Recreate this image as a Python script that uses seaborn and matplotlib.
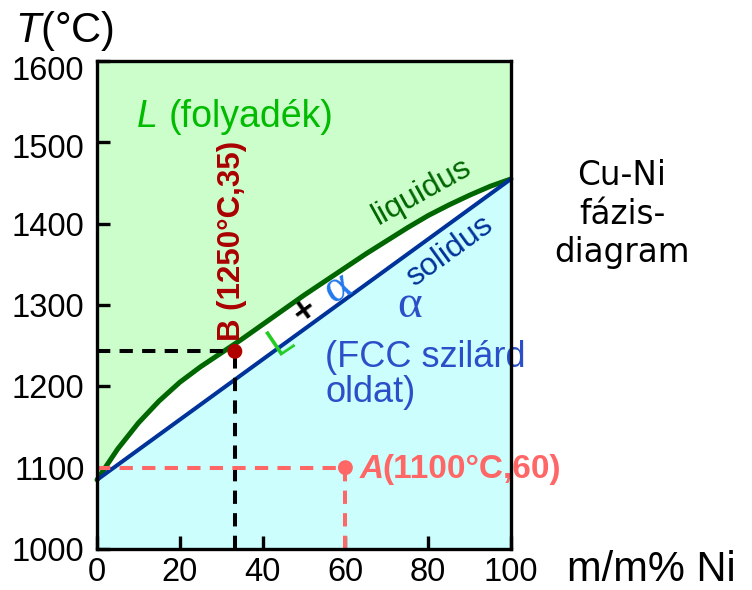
import numpy as np
import pandas as pd
import matplotlib
matplotlib.use('Agg')
import matplotlib.pyplot as plt
import matplotlib.transforms as mtransforms
import seaborn as sns

# Cu-Ni phase diagram
ni_pct = [0, 5, 10, 15, 20, 25, 30, 35, 40, 45, 50, 55, 60, 65, 70, 75, 80, 85, 90, 95, 100]
liquidus_t = [1085, 1123, 1155, 1182, 1205, 1224, 1241, 1258, 1276, 1294, 1312, 1329, 1346,
              1363, 1379, 1395, 1410, 1423, 1435, 1446, 1455]
solidus_pct = [0, 100]
solidus_t = [1085, 1455]

point_b = (33.3, 1243)   # B (1250°C,35)
point_a = (60, 1100)     # A (1100°C,60)

x_ticks = [0, 20, 40, 60, 80, 100]
y_ticks = [1000, 1100, 1200, 1300, 1400, 1500, 1600]

sns.set_style('ticks')
plt.rcParams['font.family'] = ['Liberation Sans', 'DejaVu Sans']
plt.rcParams['text.color'] = 'black'
plt.rcParams['mathtext.fontset'] = 'custom'
plt.rcParams['mathtext.rm'] = 'Liberation Sans'
plt.rcParams['mathtext.it'] = 'Liberation Sans:italic'
plt.rcParams['mathtext.bf'] = 'Liberation Sans:bold'

fig = plt.figure(figsize=(7.52, 5.9), dpi=100)
ax = fig.add_axes([97 / 752, 1 - 549 / 590, 414 / 752, 488 / 590])

df_liq = pd.DataFrame({'ni': ni_pct, 'T': liquidus_t})
df_sol = pd.DataFrame({'ni': solidus_pct, 'T': solidus_t})

# region fills
liq_arr = np.array(liquidus_t, dtype=float)
sol_on_grid = np.interp(ni_pct, solidus_pct, solidus_t)
ax.fill_between(ni_pct, liq_arr, 1600, color='#ccfecc', lw=0, zorder=0)
ax.fill_between(ni_pct, 1000, sol_on_grid, color='#ccfefe', lw=0, zorder=0)
ax.fill_between(ni_pct, sol_on_grid, liq_arr, color='white', lw=0, zorder=0)

sns.lineplot(data=df_liq, x='ni', y='T', color='#006600', linewidth=3.6, ax=ax, zorder=3, clip_on=False)
sns.lineplot(data=df_sol, x='ni', y='T', color='#003399', linewidth=2.9, ax=ax, zorder=3)

# guide lines to B and A
dash = (3.3, 2.3)
ax.plot([0, point_b[0]], [point_b[1], point_b[1]], color='black', lw=2.9, dashes=dash, zorder=4)
ax.plot([point_b[0], point_b[0]], [1000, point_b[1]], color='black', lw=2.9, dashes=dash, zorder=4)
ax.plot([0, point_a[0]], [point_a[1], point_a[1]], color='#ff6666', lw=2.9, dashes=dash, zorder=4)
ax.plot([point_a[0], point_a[0]], [1000, point_a[1]], color='#ff6666', lw=2.9, dashes=dash, zorder=4)

sns.scatterplot(x=[point_b[0]], y=[point_b[1]], color='#b00000', s=115, edgecolor='none', ax=ax, zorder=5)
sns.scatterplot(x=[point_a[0]], y=[point_a[1]], color='#ff6666', s=115, edgecolor='none', ax=ax, zorder=5)

ax.set_xlim(0, 100)
ax.set_ylim(1000, 1600)
ax.set_xticks(x_ticks)
ax.set_yticks(y_ticks)
ax.set_xlabel('')
ax.set_ylabel('')
ax.tick_params(direction='in', length=9.5, width=2.4, labelsize=23.5, colors='black',
               labelcolor='black', pad=6)
ax.tick_params(axis='y', pad=9)
for sp in ax.spines.values():
    sp.set_linewidth(2.4)
    sp.set_color('black')
    sp.set_zorder(6)

# top y labels sit a little lower than their ticks in the reference
fig.canvas.draw()
ylabels = ax.get_yticklabels()
for lab, shift in zip(ylabels[-2:], [4, 7]):
    lab.set_transform(lab.get_transform() + mtransforms.ScaledTranslation(0, -shift / 100, fig.dpi_scale_trans))

# region labels
ax.text(9.7, 1531, 'L', color='#00bb00', fontsize=27, fontstyle='italic', ha='left', va='center')
ax.text(17.4, 1531, '(folyadék)', color='#00bb00', fontsize=27, ha='left', va='center')
ax.text(32.6, 1256, 'B (1250°C,35)', color='#aa0000', fontsize=22.5, fontweight='bold',
        rotation=90, rotation_mode='anchor', ha='left', va='center')
ax.text(63.5, 1098, 'A', color='#ff6666', fontsize=24, fontweight='bold', fontstyle='italic',
        ha='left', va='center')
ax.text(69.0, 1098, '(1100°C,60)', color='#ff6666', fontsize=24, fontweight='bold',
        ha='left', va='center')
ax.text(78.5, 1439, 'liquidus', color='#006600', fontsize=23, rotation=29,
        rotation_mode='anchor', ha='center', va='center')
ax.text(85.2, 1366, 'solidus', color='#003399', fontsize=23, rotation=36,
        rotation_mode='anchor', ha='center', va='center')
ax.text(44.4, 1256, 'L', color='#22cc22', fontsize=29, rotation=34,
        rotation_mode='anchor', ha='center', va='center')
ax.text(50.3, 1292, '+', color='black', fontsize=26, fontweight='bold', rotation=36,
        rotation_mode='anchor', ha='center', va='center')
ax.text(58.0, 1321, 'α', color='#2277ee', fontsize=34, family=['Liberation Serif'],
        rotation=30, rotation_mode='anchor', ha='center', va='center')
ax.text(75.6, 1299, 'α', color='#2a4fc8', fontsize=34, family=['Liberation Serif'],
        ha='center', va='center')
ax.text(55.1, 1214, '(FCC szilárd\noldat)', color='#2a4fc8', fontsize=26,
        ha='left', va='center', multialignment='left', linespacing=1.0)

# outside labels
fig.text(15 / 752, 1 - 42 / 590, '$T$(°C)', fontsize=30, ha='left', va='baseline')
fig.text(567 / 752, 1 - 581 / 590, 'm/m% Ni', fontsize=30, ha='left', va='baseline')
fig.text(622 / 752, 1 - 214 / 590, 'Cu-Ni\nfázis-\ndiagram', fontsize=23.5,
         family=['DejaVu Sans'], ha='center', va='center', multialignment='center')

fig.savefig('out.png', dpi=100)
